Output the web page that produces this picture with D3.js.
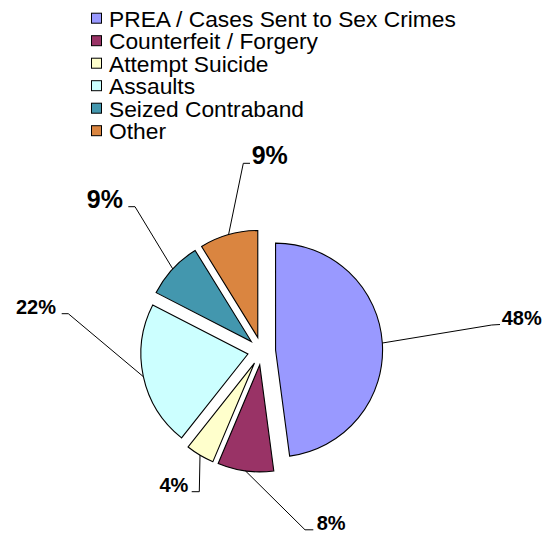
<!DOCTYPE html>
<html>
<head>
<meta charset="utf-8">
<script src="https://cdn.jsdelivr.net/npm/d3@7"></script>
<style>
  html, body { margin: 0; padding: 0; background: #fff; }
  svg { display: block; }
  text { font-family: "Liberation Sans", Arial, sans-serif; fill: #000; }
</style>
</head>
<body>
<svg id="chart" width="543" height="534"></svg>
<script>
// ---- data ----
const categories = ["PREA / Cases Sent to Sex Crimes", "Counterfeit / Forgery", "Attempt Suicide", "Assaults", "Seized Contraband", "Other"];
const values = [47.9, 8.45, 4.3, 21.9, 8.65, 8.8];
const colors = ["#9999FF", "#993366", "#FFFFCC", "#CCFFFF", "#4397AE", "#DA8540"];

// ---- layout ----
const W = 543, H = 534;
const cx = 261.6, cy = 351, radius = 107, explode = 14;
// label layout: elbow / end of leader and text anchor, relative to the pie centre
const labelLayout = [
  { elbow: [230.1, -26], end: [238.4, -26.5], text: [240.1, -26], anchor: "start", size: 20 },
  { elbow: [43.4, 178.8], end: [51.7, 178.8], text: [55.1, 178.8], anchor: "start", size: 20 },
  { elbow: [-62.3, 140.7], end: [-69.9, 140.7], text: [-73.3, 140.7], anchor: "end", size: 20 },
  { elbow: [-193.3, -37.3], end: [-199.9, -37.3], text: [-205.6, -36.7], anchor: "end", size: 20 },
  { elbow: [-126.6, -144.3], end: [-133.3, -144.3], text: [-138.6, -142.7], anchor: "end", size: 25 },
  { elbow: [-18.3, -187.7], end: [-11.6, -187.7], text: [-9.9, -187], anchor: "start", size: 25 }
];

const svg = d3.select("#chart");
const total = d3.sum(values);
const color = d3.scaleOrdinal().domain(categories).range(colors);

const pie = d3.pie().sort(null).value(d => d.value).startAngle(0).endAngle(2 * Math.PI);
const data = categories.map((c, i) => ({ name: c, value: values[i] }));
const arcs = pie(data);
const arc = d3.arc().innerRadius(0).outerRadius(radius);

const g = svg.append("g").attr("transform", `translate(${cx},${cy})`);

function offset(a, r) {
  const m = (a.startAngle + a.endAngle) / 2;
  return [Math.sin(m) * r, -Math.cos(m) * r];
}

g.selectAll("path.slice")
  .data(arcs)
  .join("path")
  .attr("class", "slice")
  .attr("d", arc)
  .attr("transform", d => { const o = offset(d, explode); return `translate(${o[0]},${o[1]})`; })
  .attr("fill", d => color(d.data.name))
  .attr("stroke", "#000")
  .attr("stroke-width", 1.1)
  .attr("stroke-linejoin", "miter");

// leader lines + labels
arcs.forEach((d, i) => {
  const L = labelLayout[i];
  const p = offset(d, explode + radius);
  g.append("polyline")
    .attr("points", [p, L.elbow, L.end].map(q => q.join(",")).join(" "))
    .attr("fill", "none")
    .attr("stroke", "#000")
    .attr("stroke-width", 1);
  g.append("text")
    .attr("x", L.text[0])
    .attr("y", L.text[1])
    .attr("text-anchor", L.anchor)
    .attr("font-weight", "bold")
    .attr("font-size", L.size)
    .text(Math.round(d.value / total * 100) + "%");
});

// legend
const legend = svg.append("g").attr("transform", "translate(91,26.7)");
const item = legend.selectAll("g.item")
  .data(categories)
  .join("g")
  .attr("class", "item")
  .attr("transform", (d, i) => `translate(0,${i * 22.5})`);
item.append("rect")
  .attr("x", 0.5).attr("y", -13.5)
  .attr("width", 10).attr("height", 10)
  .attr("fill", d => color(d))
  .attr("stroke", "#000")
  .attr("stroke-width", 1);
item.append("text")
  .attr("transform", "translate(18,0) scale(1.06,1)")
  .attr("font-size", 21.5)
  .text(d => d);
</script>
</body>
</html>
